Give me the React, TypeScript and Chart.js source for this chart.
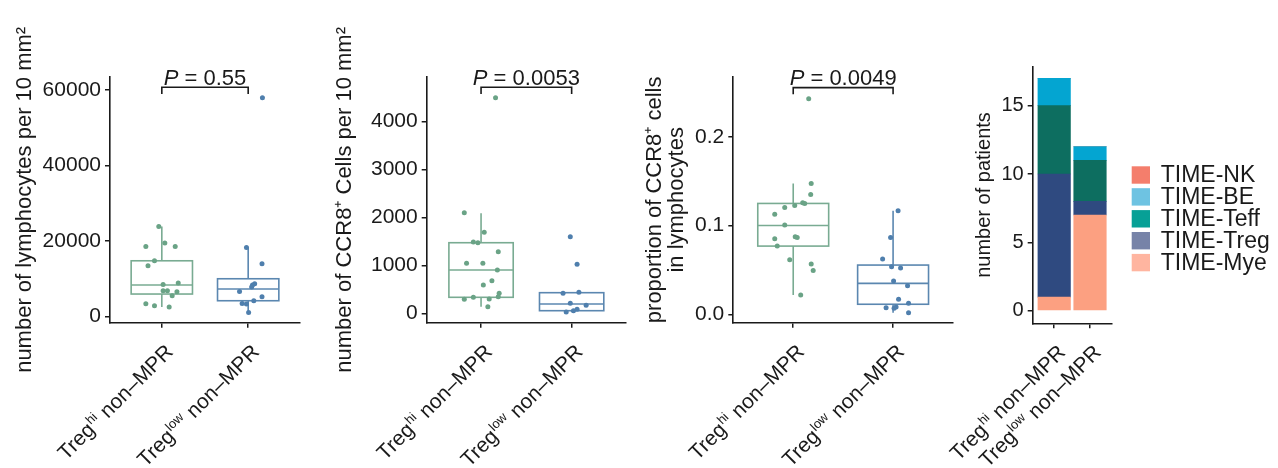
import React, { useEffect, useRef } from "react"
import { Chart, ChartConfiguration, registerables } from "chart.js"

Chart.register(...registerables)

const FONT = "'Liberation Sans', Arial, Helvetica, sans-serif"
const INK = "#1a1a1a"

// x groups: "Treg" + superscript + " non–MPR"
const groupSup = ["hi", "low"]

// panel 1: lymphocytes per 10 mm2
const lymphTicks = [0, 20000, 40000, 60000]
const lymphHi = [23800, 18520, 19410, 18520, 14730, 13410, 8460, 8830, 6800, 6800, 5475, 6530, 3360, 2830, 2490]
const lymphHiJitter = [-0.035, -0.185, 0.035, 0.155, -0.085, -0.16, 0.015, 0.19, 0.015, 0.065, 0.12, 0.175, -0.185, -0.085, 0.085]
const lymphHiBox = [2490, 5925, 8300, 14730, 23800]
const lymphLow = [57930, 18250, 13940, 8650, 8300, 7800, 6610, 5210, 4150, 3440, 3280, 1060]
const lymphLowJitter = [0.165, -0.02, 0.16, 0.075, 0.05, 0.04, -0.1, 0.16, 0.065, -0.07, -0.02, 0.005]
const lymphLowBox = [1060, 4150, 7250, 9970, 18250]
const lymphBracket = [60680, 58900]

// panel 2: CCR8+ cells per 10 mm2
const ccr8Ticks = [0, 1000, 2000, 3000, 4000]
const ccr8Hi = [4491, 2095, 1687, 1485, 1470, 1283, 1040, 1040, 902, 680, 590, 292, 333, 298, 346, 417, 138]
const ccr8HiJitter = [0.16, -0.185, 0.035, -0.085, -0.035, 0.19, -0.16, 0.02, 0.18, 0.12, 0.025, -0.185, -0.085, 0.09, 0.19, 0.2, 0.075]
const ccr8HiBox = [138, 333, 902, 1470, 2083]
const ccr8Low = [1596, 1021, 437, 417, 208, 167, 83, 54, 27]
const ccr8LowJitter = [-0.015, 0.06, 0.08, -0.095, -0.015, 0.16, 0.06, 0.02, -0.06]
const ccr8LowBox = [27, 54, 194, 429, 437]
const ccr8Bracket = [4708, 4568]

// panel 3: proportion of CCR8+ cells in lymphocytes
const propTicks = [0, 0.1, 0.2]
const propHi = [0.243, 0.1475, 0.135, 0.1257, 0.125, 0.1227, 0.1205, 0.1129, 0.1006, 0.0851, 0.0874, 0.0867, 0.0769, 0.0615, 0.0566, 0.0495, 0.0217]
const propHiJitter = [0.155, 0.18, 0.175, 0.095, 0.115, 0.015, -0.085, -0.185, -0.085, -0.185, 0.02, 0.04, -0.16, -0.035, 0.18, 0.2, 0.075]
const propHiBox = [0.0217, 0.0769, 0.1002, 0.125, 0.1475]
const propLow = [0.1167, 0.0867, 0.0623, 0.0536, 0.0521, 0.0375, 0.0322, 0.0169, 0.0124, 0.0082, 0.0074, 0.0068, 0.0018]
const propLowJitter = [0.05, -0.025, -0.105, -0.015, 0.075, 0.005, 0.145, 0.055, 0.155, 0.03, -0.07, 0.01, 0.155]
const propLowBox = [0.0018, 0.0113, 0.0349, 0.0555, 0.1167]
const propBracket = [0.2556, 0.2481]

// panel 4: number of patients by TIME subtype (stack order bottom -> top)
const timeTypes = ["TIME-Mye", "TIME-Treg", "TIME-Teff", "TIME-BE", "TIME-NK"]
const timeHiCounts = [1, 9, 5, 2, 0]
const timeLowCounts = [7, 1, 3, 1, 0]
const patientTicks = [0, 5, 10, 15]

const POINT_COLORS = ["#6aa386", "#4f7fad"]
const BOX_COLORS = ["#79ab92", "#5b87b0"]
const BAR_COLORS = ["#fca081", "#2f4a80", "#0d6e60", "#04a5d1", "#f07f6e"]
const LEGEND_COLORS = ["#ffb5a0", "#7783a8", "#07a096", "#6ec3e2", "#f47e6c"]
const BOX_HALF = 0.355

type Frame = {
	left: number
	width: number
	areaLeft: number
	areaRight: number
	areaTop: number
	areaBottom: number
	titleCenter: number
	titleSize: number
	titleLine: number
}

function drawGroupLabels(chart: Chart) {
	const { ctx, chartArea } = chart
	const xs = chart.scales.x
	const big = `21px ${FONT}`
	const small = `13px ${FONT}`
	groupSup.forEach((sup, i) => {
		const x = xs.getPixelForValue(i + 1) + 1
		const y = chartArea.bottom + 19
		ctx.save()
		ctx.font = big
		const w1 = ctx.measureText("Treg").width
		const w3 = ctx.measureText(" non–MPR").width
		ctx.font = small
		const w2 = ctx.measureText(sup).width + 1
		const total = w1 + w2 + w3
		ctx.translate(x, y)
		ctx.rotate(-Math.PI / 4)
		ctx.fillStyle = INK
		ctx.textAlign = "left"
		ctx.textBaseline = "alphabetic"
		let cx = -total
		ctx.font = big
		ctx.fillText("Treg", cx, 16)
		cx += w1
		ctx.font = small
		ctx.fillText(sup, cx + 0.5, 8)
		cx += w2
		ctx.font = big
		ctx.fillText(" non–MPR", cx, 16)
		ctx.restore()
	})
}

function frameLayout(f: Frame) {
	return {
		padding: { top: f.areaTop, right: f.left + f.width - f.areaRight, bottom: 0, left: 0 },
	}
}

function yAxis(f: Frame, min: number, max: number, ticks: number[], fmt: (v: number) => string, title: string | string[], tickSize: number) {
	return {
		type: "linear" as const,
		min,
		max,
		afterBuildTicks: (s: any) => {
			s.ticks = ticks.map((v) => ({ value: v }))
		},
		afterFit: (s: any) => {
			s.width = f.areaLeft - f.left
		},
		ticks: {
			callback: (v: any) => fmt(Number(v)),
			font: { family: FONT, size: tickSize },
			color: INK,
			padding: 4,
		},
		grid: { drawOnChartArea: false, drawTicks: true, tickLength: 5, color: INK, lineWidth: 1.5 },
		border: { color: INK, width: 1.6 },
		title: {
			display: true,
			text: title,
			color: INK,
			font: { family: FONT, size: f.titleSize, lineHeight: f.titleLine / f.titleSize },
			padding: { top: f.titleCenter - f.left - f.titleLine / 2, bottom: 0 },
		},
	}
}

function xAxis(f: Frame) {
	return {
		type: "linear" as const,
		min: 0.4,
		max: 2.6,
		offset: false,
		afterBuildTicks: (s: any) => {
			s.ticks = groupSup.map((_, i) => ({ value: i + 1 }))
		},
		afterFit: (s: any) => {
			s.height = 468 - f.areaBottom
		},
		ticks: { display: false },
		grid: { offset: false, drawOnChartArea: false, drawTicks: true, tickLength: 5, color: INK, lineWidth: 1.5 },
		border: { color: INK, width: 1.6 },
	}
}

type BoxPanelProps = {
	frame: Frame
	hi: number[]
	hiJitter: number[]
	hiBox: number[]
	low: number[]
	lowJitter: number[]
	lowBox: number[]
	yMin: number
	yMax: number
	yTicks: number[]
	fmt: (v: number) => string
	title: string | string[]
	pValue: string
	bracket: number[]
}

function BoxPanel(p: BoxPanelProps) {
	const chartRef = useRef<HTMLCanvasElement | null>(null)
	const chartInstance = useRef<Chart | null>(null)

	useEffect(() => {
		if (chartInstance.current) chartInstance.current.destroy()
		if (!chartRef.current) return
		const ctx = chartRef.current.getContext("2d")
		if (!ctx) return
		const f = p.frame
		const boxes = [p.hiBox, p.lowBox]

		// box + whiskers under the jittered points
		const boxPlugin = {
			id: "boxes",
			beforeDatasetsDraw(chart: Chart) {
				const c = chart.ctx
				const xs = chart.scales.x
				const ys = chart.scales.y
				boxes.forEach((b, i) => {
					const cx = xs.getPixelForValue(i + 1)
					const half = xs.getPixelForValue(i + 1 + BOX_HALF) - cx
					const [lo, q1, med, q3, hi] = b.map((v) => ys.getPixelForValue(v))
					c.save()
					c.strokeStyle = BOX_COLORS[i]
					c.lineWidth = 1.6
					c.beginPath()
					c.moveTo(cx, hi)
					c.lineTo(cx, q3)
					c.moveTo(cx, q1)
					c.lineTo(cx, lo)
					c.stroke()
					c.strokeRect(cx - half, q3, 2 * half, q1 - q3)
					c.beginPath()
					c.moveTo(cx - half, med)
					c.lineTo(cx + half, med)
					c.stroke()
					c.restore()
				})
			},
		}

		// significance bracket, P text and x labels
		const annotPlugin = {
			id: "annot",
			afterDraw(chart: Chart) {
				const c = chart.ctx
				const xs = chart.scales.x
				const ys = chart.scales.y
				const x1 = xs.getPixelForValue(1)
				const x2 = xs.getPixelForValue(2)
				const yTop = ys.getPixelForValue(p.bracket[0])
				const yLeg = ys.getPixelForValue(p.bracket[1])
				c.save()
				c.strokeStyle = INK
				c.lineWidth = 1.6
				c.beginPath()
				c.moveTo(x1, yLeg)
				c.lineTo(x1, yTop)
				c.lineTo(x2, yTop)
				c.lineTo(x2, yLeg)
				c.stroke()
				c.fillStyle = INK
				c.textBaseline = "alphabetic"
				c.textAlign = "left"
				c.font = `italic 22px ${FONT}`
				const wP = c.measureText("P").width
				c.font = `22px ${FONT}`
				const rest = ` = ${p.pValue}`
				const wR = c.measureText(rest).width
				const start = (x1 + x2) / 2 - (wP + wR) / 2
				c.font = `italic 22px ${FONT}`
				c.fillText("P", start, yTop - 2.5)
				c.font = `22px ${FONT}`
				c.fillText(rest, start + wP, yTop - 2.5)
				c.restore()
				drawGroupLabels(chart)
			},
		}

		const groups = [
			{ vals: p.hi, jit: p.hiJitter },
			{ vals: p.low, jit: p.lowJitter },
		]

		const config: ChartConfiguration = {
			type: "scatter",
			data: {
				datasets: groups.map((g, i) => ({
					label: groupSup[i],
					data: g.vals.map((v, k) => ({ x: i + 1 + g.jit[k], y: v })),
					pointRadius: 2.5,
					pointBorderWidth: 0,
					pointBackgroundColor: POINT_COLORS[i],
					backgroundColor: POINT_COLORS[i],
				})),
			},
			options: {
				animation: false,
				responsive: true,
				maintainAspectRatio: false,
				events: [],
				layout: frameLayout(f),
				plugins: { legend: { display: false }, tooltip: { enabled: false } },
				scales: {
					x: xAxis(f) as any,
					y: yAxis(f, p.yMin, p.yMax, p.yTicks, p.fmt, p.title, 21) as any,
				},
			},
			plugins: [boxPlugin, annotPlugin],
		}

		chartInstance.current = new Chart(ctx, config)

		return () => {
			if (chartInstance.current) {
				chartInstance.current.destroy()
				chartInstance.current = null
			}
		}
	}, [])

	const f = p.frame
	return (
		<div style={{ position: "absolute", left: f.left, top: 0, width: f.width, height: 468 }}>
			<canvas ref={chartRef}></canvas>
		</div>
	)
}

function PatientBars() {
	const chartRef = useRef<HTMLCanvasElement | null>(null)
	const chartInstance = useRef<Chart | null>(null)
	const f: Frame = {
		left: 930,
		width: 348,
		areaLeft: 1032.7,
		areaRight: 1111.5,
		areaTop: 66.7,
		areaBottom: 323.3,
		titleCenter: 984,
		titleSize: 20,
		titleLine: 24,
	}

	useEffect(() => {
		if (chartInstance.current) chartInstance.current.destroy()
		if (!chartRef.current) return
		const ctx = chartRef.current.getContext("2d")
		if (!ctx) return

		const legendPlugin = {
			id: "timeLegend",
			afterDraw(chart: Chart) {
				const c = chart.ctx
				const lx = chart.chartArea.right + 20.2
				c.save()
				c.font = `23px ${FONT}`
				c.textBaseline = "middle"
				c.textAlign = "left"
				const order = timeTypes.map((_, i) => i).reverse()
				order.forEach((idx, row) => {
					const cy = 175 + row * 21.9
					c.fillStyle = LEGEND_COLORS[idx]
					c.fillRect(lx, cy - 8.7, 18.3, 17.4)
					c.fillStyle = INK
					c.fillText(timeTypes[idx], lx + 29, cy + 1)
				})
				c.restore()
				drawGroupLabels(chart)
			},
		}

		const config: ChartConfiguration = {
			type: "bar",
			data: {
				datasets: timeTypes.map((t, i) => ({
					label: t,
					data: [
						{ x: 1, y: timeHiCounts[i] },
						{ x: 2, y: timeLowCounts[i] },
					],
					backgroundColor: BAR_COLORS[i],
					borderWidth: 0,
					barThickness: 32.5,
				})),
			} as any,
			options: {
				animation: false,
				responsive: true,
				maintainAspectRatio: false,
				events: [],
				layout: frameLayout(f),
				plugins: { legend: { display: false }, tooltip: { enabled: false } },
				scales: {
					x: { ...(xAxis(f) as any), stacked: true },
					y: { ...(yAxis(f, -0.92, 17.85, patientTicks, (v) => String(v), "number of patients", 20) as any), stacked: true },
				},
			},
			plugins: [legendPlugin],
		}

		chartInstance.current = new Chart(ctx, config)

		return () => {
			if (chartInstance.current) {
				chartInstance.current.destroy()
				chartInstance.current = null
			}
		}
	}, [])

	return (
		<div style={{ position: "absolute", left: f.left, top: 0, width: f.width, height: 468 }}>
			<canvas ref={chartRef}></canvas>
		</div>
	)
}

export default function App() {
	return (
		<div style={{ position: "fixed", left: 0, top: 0, width: 1278, height: 468, background: "#fff", overflow: "hidden" }}>
			<BoxPanel
				frame={{ left: 0, width: 330, areaLeft: 110, areaRight: 300, areaTop: 77, areaBottom: 322.7, titleCenter: 25, titleSize: 22, titleLine: 26 }}
				hi={lymphHi}
				hiJitter={lymphHiJitter}
				hiBox={lymphHiBox}
				low={lymphLow}
				lowJitter={lymphLowJitter}
				lowBox={lymphLowBox}
				yMin={-1667}
				yMax={63400}
				yTicks={lymphTicks}
				fmt={(v) => String(v)}
				title="number of lymphocytes per 10 mm²"
				pValue="0.55"
				bracket={lymphBracket}
			/>
			<BoxPanel
				frame={{ left: 330, width: 300, areaLeft: 426.7, areaRight: 626.7, areaTop: 77, areaBottom: 322.7, titleCenter: 345, titleSize: 22, titleLine: 26 }}
				hi={ccr8Hi}
				hiJitter={ccr8HiJitter}
				hiBox={ccr8HiBox}
				low={ccr8Low}
				lowJitter={ccr8LowJitter}
				lowBox={ccr8LowBox}
				yMin={-196}
				yMax={4922}
				yTicks={ccr8Ticks}
				fmt={(v) => String(v)}
				title="number of CCR8⁺ Cells per 10 mm²"
				pValue="0.0053"
				bracket={ccr8Bracket}
			/>
			<BoxPanel
				frame={{ left: 630, width: 330, areaLeft: 733.3, areaRight: 953, areaTop: 77, areaBottom: 322.7, titleCenter: 655, titleSize: 22, titleLine: 22 }}
				hi={propHi}
				hiJitter={propHiJitter}
				hiBox={propHiBox}
				low={propLow}
				lowJitter={propLowJitter}
				lowBox={propLowBox}
				yMin={-0.0095}
				yMax={0.2676}
				yTicks={propTicks}
				fmt={(v) => v.toFixed(1)}
				title={["proportion of CCR8⁺ cells", "in lymphocytes"]}
				pValue="0.0049"
				bracket={propBracket}
			/>
			<PatientBars />
		</div>
	)
}
